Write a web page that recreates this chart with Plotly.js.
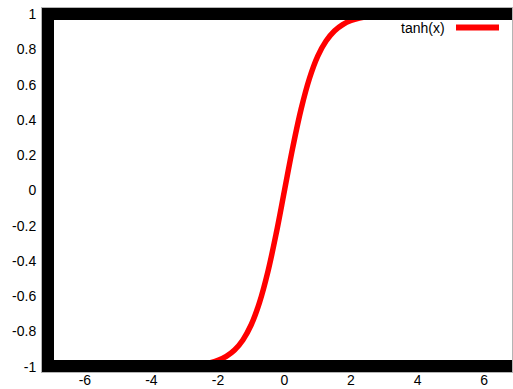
<!DOCTYPE html>
<html>
<head>
<meta charset="utf-8">
<script src="https://cdn.plot.ly/plotly-3.0.1.min.js"></script>
<style>html,body{margin:0;padding:0;background:#fff;}#chart{width:513px;height:389px;}</style>
</head>
<body>
<div id="chart"></div>
<script>
// x samples and tanh(x) values
var xValues = [-7.5, -6, -5, -4, -3.5, -3, -2.75, -2.5, -2.25, -2, -1.75, -1.5, -1.25, -1, -0.75, -0.5, -0.25, 0,
               0.25, 0.5, 0.75, 1, 1.25, 1.5, 1.75, 2, 2.25, 2.5, 2.75, 3, 3.5, 4, 5, 6, 7.5];
var yValues = [-1.000, -1.000, -1.000, -0.999, -0.998, -0.995, -0.992, -0.987, -0.978, -0.964, -0.941, -0.905, -0.848, -0.762, -0.635, -0.462, -0.245, 0.000,
               0.245, 0.462, 0.635, 0.762, 0.848, 0.905, 0.941, 0.964, 0.978, 0.987, 0.992, 0.995, 0.998, 0.999, 1.000, 1.000, 1.000];
var seriesName = 'tanh(x)';
var xTickVals = [-6, -4, -2, 0, 2, 4, 6];
var xTickText = ['-6', '-4', '-2', '0', '2', '4', '6'];
var yTickVals = [-1, -0.8, -0.6, -0.4, -0.2, 0, 0.2, 0.4, 0.6, 0.8, 1];
var yTickText = ['-1', '-0.8', '-0.6', '-0.4', '-0.2', '0', '0.2', '0.4', '0.6', '0.8', '1'];

var font = {family: 'Liberation Sans, Arial, sans-serif', size: 14, color: '#000'};
var frameColor = '#b4b4b4';

var trace = {
  x: xValues, y: yValues, type: 'scatter', mode: 'lines', name: seriesName,
  line: {color: '#ff0000', width: 5.5, shape: 'spline', smoothing: 1}, showlegend: false,
  hoverinfo: 'skip'
};

var layout = {
  width: 513, height: 389,
  margin: {l: 42, r: 1, t: 8, b: 17, pad: 0},
  paper_bgcolor: '#fff', plot_bgcolor: '#fff',
  font: font,
  showlegend: false,
  xaxis: {
    range: [-7.29, 6.84], showgrid: false, zeroline: false,
    showline: true, mirror: true, linecolor: frameColor, linewidth: 1,
    tickmode: 'array', tickvals: xTickVals, ticktext: xTickText,
    ticks: '', ticklabelstandoff: -5, tickfont: font
  },
  yaxis: {
    range: [-1.03, 1.035], showgrid: false, zeroline: false,
    showline: true, mirror: true, linecolor: frameColor, linewidth: 1,
    tickmode: 'array', tickvals: yTickVals, ticktext: yTickText,
    ticks: '', ticklabelstandoff: 2, tickfont: font
  },
  shapes: [
    {type: 'rect', xref: 'paper', yref: 'paper', x0: 0, x1: 12/470, y0: 0, y1: 1, fillcolor: '#000', line: {width: 0}, layer: 'above'},
    {type: 'rect', xref: 'paper', yref: 'paper', x0: 0, x1: 1, y0: 1 - 12/364, y1: 1, fillcolor: '#000', line: {width: 0}, layer: 'above'},
    {type: 'rect', xref: 'paper', yref: 'paper', x0: 0, x1: 1, y0: 0, y1: 12/364, fillcolor: '#000', line: {width: 0}, layer: 'above'},
    {type: 'line', xref: 'paper', yref: 'paper', x0: (456-42)/470, x1: (499-42)/470, y0: (372-27.5)/364, y1: (372-27.5)/364, line: {color: '#ff0000', width: 6}, layer: 'above'}
  ],
  annotations: [
    {xref: 'paper', yref: 'paper', x: (447-42)/470, y: (372-28)/364, xanchor: 'right', yanchor: 'middle', text: seriesName, showarrow: false, font: font}
  ]
};

Plotly.newPlot('chart', [trace], layout, {staticPlot: true, displayModeBar: false});
</script>
</body>
</html>
